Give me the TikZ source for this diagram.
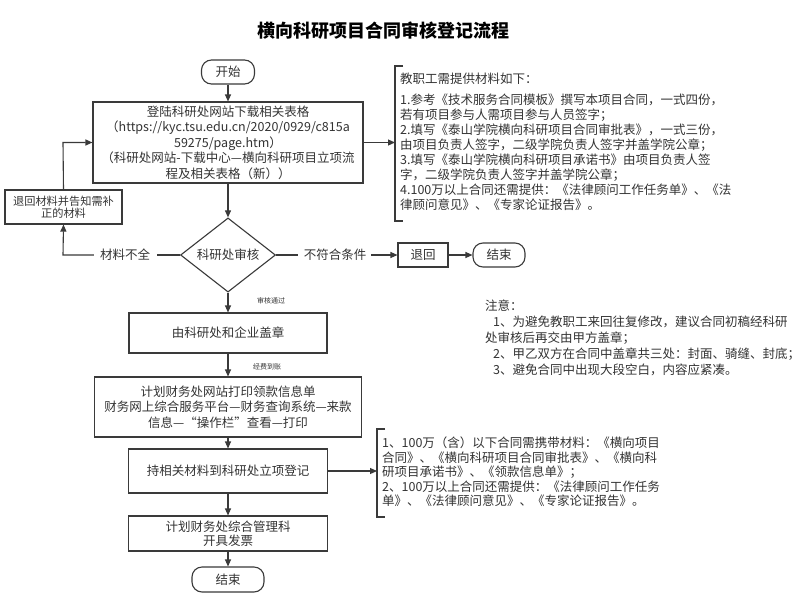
\documentclass[tikz,border=0pt]{standalone}
\usepackage{fontspec}
\setmainfont{Noto Sans CJK SC}
\usetikzlibrary{arrows.meta,shapes.geometric}
\definecolor{txt}{HTML}{333333}
\definecolor{ln}{HTML}{3A3A3A}
\begin{document}
\begin{tikzpicture}[x=1pt,y=-1pt,
  every node/.style={text=txt, font=\fontsize{12.5}{15.5}\selectfont, inner sep=0pt},
  box/.style={draw=ln, line width=1.1pt, align=center},
  term/.style={draw=ln, line width=1.1pt, rounded corners=10pt},
  conn/.style={draw=ln, line width=1.1pt},
  arr/.style={conn, -{Triangle[length=7pt,width=6pt]}},
  small/.style={font=\fontsize{7}{8}\selectfont},
  note/.style={align=left, anchor=north west, font=\fontsize{12.5}{15}\selectfont}
]
\useasboundingbox (0,0) rectangle (799,602);
\fill[white] (0,0) rectangle (799,602);

\node[font=\fontsize{18}{20}\selectfont\bfseries, text=black] (title) at (383,31) {横向科研项目合同审核登记流程};

\node[term, minimum width=53pt, minimum height=24pt] (start) at (228,72) {开始};
\node[box, minimum width=270pt, minimum height=81pt] (box1) at (228,142.5)
 {登陆科研处网站下载相关表格\\（https://kyc.tsu.edu.cn/2020/0929/c815a\\59275/page.htm）\\（科研处网站-下载中心—横向科研项目立项流\\程及相关表格（新））};
\node[box, minimum width=117pt, minimum height=34pt, font=\fontsize{11.2}{12.5}\selectfont] (back) at (63.5,207) {退回材料并告知需补\\正的材料};
\node[draw=ln, line width=1.1pt, shape=diamond, minimum width=95pt, minimum height=66pt] (dia) at (228,255) {科研处审核};
\node (lack) at (125,255) {材料不全};
\node (fail) at (335,255) {不符合条件};
\node[box, minimum width=50pt, minimum height=24pt] (ret) at (423,255) {退回};
\node[term, minimum width=52pt, minimum height=24pt] (end1) at (499,255) {结束};

\node[box, minimum width=198pt, minimum height=40pt] (box2) at (228,333) {由科研处和企业盖章};
\node[box, minimum width=267pt, minimum height=60pt] (box3) at (228,407)
 {计划财务处网站打印领款信息单\\财务网上综合服务平台—财务查询系统—来款\\信息—“操作栏”查看—打印};
\node[box, minimum width=199pt, minimum height=44pt] (box4) at (228,471) {持相关材料到科研处立项登记};
\node[box, minimum width=199pt, minimum height=35pt, font=\fontsize{12.5}{14}\selectfont] (box5) at (228,533.5) {计划财务处综合管理科\\开具发票};
\node[term, minimum width=72pt, minimum height=25pt] (end2) at (228,579.5) {结束};

\node[small] (pass) at (271,301) {审核通过};
\node[small] (fund) at (267,367) {经费到账};

% arrows along the main column
\draw[arr] (start) -- (box1);
\draw[arr] (box1) -- (dia);
\draw[arr] (dia) -- (box2);
\draw[arr] (box2) -- (box3);
\draw[arr] (box3) -- (box4);
\draw[arr] (box4) -- (box5);
\draw[arr] (box5) -- (end2);

% left loop
\coordinate (lc) at (63,255);
\coordinate (lt) at (63,142.5);
\draw[conn] (dia.west) -- ([xshift=7pt]lack.east);
\draw[arr] ([xshift=-6pt]lack.west) -- (lc) -- (back.south);
\draw[arr] (back.north) -- (lt) -- (box1.west);

% right branch
\draw[conn] (dia.east) -- ([xshift=-6pt]fail.west);
\draw[arr] ([xshift=5pt]fail.east) -- (ret.west);
\draw[arr] (ret.east) -- (end1.west);

% bracket 1
\coordinate (br1) at (395,142.5);
\draw[conn] (403,66) -- (395,66) -- (395,221) -- (403,221);
\draw[arr] (box1.east) -- (br1);
\node[note] (mat1) at (400,73)
 {教职工需提供材料如下：\\[6pt]
  1.参考《技术服务合同模板》撰写本项目合同，一式四份，\\
  若有项目参与人需项目参与人员签字；\\
  2.填写《泰山学院横向科研项目合同审批表》，一式三份，\\
  由项目负责人签字，二级学院负责人签字并盖学院公章；\\
  3.填写《泰山学院横向科研项目承诺书》由项目负责人签\\
  字，二级学院负责人签字并盖学院公章；\\
  4.100万以上合同还需提供：《法律顾问工作任务单》、《法\\
  律顾问意见》、《专家论证报告》。};

% bracket 2
\coordinate (br2) at (377,471);
\draw[conn] (385,429) -- (377,429) -- (377,517) -- (385,517);
\draw[arr] (box4.east) -- (br2);
\node[note, font=\fontsize{12.5}{14.5}\selectfont] (mat2) at (382,437)
 {1、100万（含）以下合同需携带材料：《横向项目\\
  合同》、《横向科研项目合同审批表》、《横向科\\
  研项目承诺书》、《领款信息单》；\\
  2、100万以上合同还需提供：《法律顾问工作任务\\
  单》、《法律顾问意见》、《专家论证报告》。};

% notes
\node[note, font=\fontsize{12.5}{16}\selectfont] (notes) at (485,300)
 {注意：\\
  \hspace*{8pt}1、为避免教职工来回往复修改，建议合同初稿经科研\\
  处审核后再交由甲方盖章；\\
  \hspace*{8pt}2、甲乙双方在合同中盖章共三处：封面、骑缝、封底；\\
  \hspace*{8pt}3、避免合同中出现大段空白，内容应紧凑。};
\end{tikzpicture}
\end{document}
